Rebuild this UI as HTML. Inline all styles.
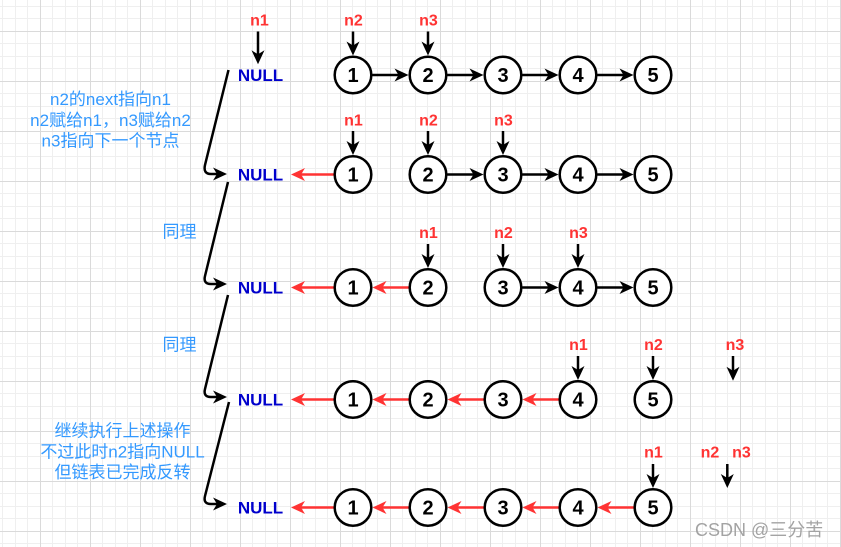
<!DOCTYPE html>
<html>
<head>
<meta charset="utf-8">
<style>
html,body{margin:0;padding:0;background:#fff;}
svg{display:block;}
.lbl{font-family:"Liberation Sans","Noto Sans CJK SC",sans-serif;font-weight:bold;font-size:16px;fill:#FF3333;text-anchor:middle;}
.num{font-family:"Liberation Sans",sans-serif;font-weight:bold;font-size:20px;fill:#000;text-anchor:middle;}
.nul{font-family:"Liberation Sans",sans-serif;font-weight:bold;font-size:17px;fill:#0000CC;text-anchor:middle;}
.cn{font-family:"Liberation Sans","Noto Sans CJK SC",sans-serif;font-size:17px;fill:#3399FF;text-anchor:middle;}
.wm{font-family:"Liberation Sans","Noto Sans CJK SC",sans-serif;font-size:18px;fill:#a3a3a3;}
</style>
</head>
<body>
<svg width="841" height="547" viewBox="0 0 841 547" xmlns="http://www.w3.org/2000/svg">
<defs>
<pattern id="grid" patternUnits="userSpaceOnUse" x="40" y="31" width="50" height="50">
<rect x="0" y="0" width="50" height="50" fill="#fff"/>
<rect x="12" y="0" width="1" height="50" fill="#efefef"/>
<rect x="25" y="0" width="1" height="50" fill="#efefef"/>
<rect x="37" y="0" width="1" height="50" fill="#efefef"/>
<rect x="0" y="12" width="50" height="1" fill="#efefef"/>
<rect x="0" y="25" width="50" height="1" fill="#efefef"/>
<rect x="0" y="37" width="50" height="1" fill="#efefef"/>
<rect x="0" y="0" width="1" height="50" fill="#dadada"/>
<rect x="0" y="0" width="50" height="1" fill="#dadada"/>
</pattern>
<marker id="mb" markerUnits="userSpaceOnUse" markerWidth="16" markerHeight="14" viewBox="0 0 16 14" refX="11" refY="7" orient="auto">
<path d="M1,0.5 L15,7 L1,13.5 L5,7 Z" fill="#000"/>
</marker>
<marker id="mr" markerUnits="userSpaceOnUse" markerWidth="16" markerHeight="14" viewBox="0 0 16 14" refX="11" refY="7" orient="auto">
<path d="M1,0.5 L15,7 L1,13.5 L5,7 Z" fill="#FF3333"/>
</marker>
</defs>
<rect x="0" y="0" width="841" height="547" fill="url(#grid)"/>

<!-- left connectors -->
<g fill="none" stroke="#000" stroke-width="2.5" marker-end="url(#mb)">
<path d="M228.5,70 L205,165 Q203,174 211,174 L223,174"/>
<path d="M228,182 L205,276 Q203,284 211,284 L223,284"/>
<path d="M228,295 L205,389 Q203,397 211,397 L223,397"/>
<path d="M229,402 L205,496 Q203,504 211,504 L223,504"/>
</g>

<!-- black horizontal arrows -->
<g stroke="#000" stroke-width="2.5" marker-end="url(#mb)">
<line x1="372.5" y1="75" x2="404.5" y2="75"/>
<line x1="447.5" y1="75" x2="479.5" y2="75"/>
<line x1="522.5" y1="75" x2="554.5" y2="75"/>
<line x1="597.5" y1="75" x2="629.5" y2="75"/>
<line x1="447.5" y1="174.5" x2="479.5" y2="174.5"/>
<line x1="522.5" y1="174.5" x2="554.5" y2="174.5"/>
<line x1="597.5" y1="174.5" x2="629.5" y2="174.5"/>
<line x1="522.5" y1="287.5" x2="554.5" y2="287.5"/>
<line x1="597.5" y1="287.5" x2="629.5" y2="287.5"/>
</g>

<!-- red arrows -->
<g stroke="#FF3333" stroke-width="2.5" marker-end="url(#mr)">
<line x1="333.5" y1="174.5" x2="295" y2="174.5"/>
<line x1="333.5" y1="287.5" x2="295" y2="287.5"/>
<line x1="408.5" y1="287.5" x2="376.5" y2="287.5"/>
<line x1="333.5" y1="399.5" x2="295" y2="399.5"/>
<line x1="408.5" y1="399.5" x2="376.5" y2="399.5"/>
<line x1="483.5" y1="399.5" x2="451.5" y2="399.5"/>
<line x1="558.5" y1="399.5" x2="526.5" y2="399.5"/>
<line x1="333.5" y1="507.5" x2="295" y2="507.5"/>
<line x1="408.5" y1="507.5" x2="376.5" y2="507.5"/>
<line x1="483.5" y1="507.5" x2="451.5" y2="507.5"/>
<line x1="558.5" y1="507.5" x2="526.5" y2="507.5"/>
<line x1="633.5" y1="507.5" x2="601.5" y2="507.5"/>
</g>

<!-- vertical pointer arrows -->
<g stroke="#000" stroke-width="2.5" marker-end="url(#mb)">
<line x1="258" y1="31.5" x2="258" y2="60.3"/>
<line x1="353" y1="31.5" x2="353" y2="51.5"/>
<line x1="428" y1="31.5" x2="428" y2="51.5"/>
<line x1="353" y1="131" x2="353" y2="151"/>
<line x1="428" y1="131" x2="428" y2="151"/>
<line x1="503" y1="131" x2="503" y2="151"/>
<line x1="428" y1="244" x2="428" y2="264"/>
<line x1="503" y1="244" x2="503" y2="264"/>
<line x1="578" y1="244" x2="578" y2="264"/>
<line x1="578" y1="356" x2="578" y2="376"/>
<line x1="653" y1="356" x2="653" y2="376"/>
<line x1="733" y1="356" x2="733" y2="376.7"/>
<line x1="653" y1="464" x2="653" y2="484"/>
<line x1="727.3" y1="464" x2="727.3" y2="484"/>
</g>

<!-- circles -->
<g fill="#fff" stroke="#000" stroke-width="2.5">
<circle cx="353" cy="75" r="18.3"/><circle cx="428" cy="75" r="18.3"/><circle cx="503" cy="75" r="18.3"/><circle cx="578" cy="75" r="18.3"/><circle cx="653" cy="75" r="18.3"/>
<circle cx="353" cy="174.5" r="18.3"/><circle cx="428" cy="174.5" r="18.3"/><circle cx="503" cy="174.5" r="18.3"/><circle cx="578" cy="174.5" r="18.3"/><circle cx="653" cy="174.5" r="18.3"/>
<circle cx="353" cy="287.5" r="18.3"/><circle cx="428" cy="287.5" r="18.3"/><circle cx="503" cy="287.5" r="18.3"/><circle cx="578" cy="287.5" r="18.3"/><circle cx="653" cy="287.5" r="18.3"/>
<circle cx="353" cy="399.5" r="18.3"/><circle cx="428" cy="399.5" r="18.3"/><circle cx="503" cy="399.5" r="18.3"/><circle cx="578" cy="399.5" r="18.3"/><circle cx="653" cy="399.5" r="18.3"/>
<circle cx="353" cy="507.5" r="18.3"/><circle cx="428" cy="507.5" r="18.3"/><circle cx="503" cy="507.5" r="18.3"/><circle cx="578" cy="507.5" r="18.3"/><circle cx="653" cy="507.5" r="18.3"/>
</g>

<!-- digits -->
<g class="num">
<text x="353" y="82.2" class="num">1</text><text x="428" y="82.2" class="num">2</text><text x="503" y="82.2" class="num">3</text><text x="578" y="82.2" class="num">4</text><text x="653" y="82.2" class="num">5</text>
<text x="353" y="181.7" class="num">1</text><text x="428" y="181.7" class="num">2</text><text x="503" y="181.7" class="num">3</text><text x="578" y="181.7" class="num">4</text><text x="653" y="181.7" class="num">5</text>
<text x="353" y="294.7" class="num">1</text><text x="428" y="294.7" class="num">2</text><text x="503" y="294.7" class="num">3</text><text x="578" y="294.7" class="num">4</text><text x="653" y="294.7" class="num">5</text>
<text x="353" y="406.7" class="num">1</text><text x="428" y="406.7" class="num">2</text><text x="503" y="406.7" class="num">3</text><text x="578" y="406.7" class="num">4</text><text x="653" y="406.7" class="num">5</text>
<text x="353" y="514.7" class="num">1</text><text x="428" y="514.7" class="num">2</text><text x="503" y="514.7" class="num">3</text><text x="578" y="514.7" class="num">4</text><text x="653" y="514.7" class="num">5</text>
</g>

<!-- NULL labels -->
<text x="260.5" y="81" class="nul">NULL</text>
<text x="260.5" y="180.5" class="nul">NULL</text>
<text x="260.5" y="293.5" class="nul">NULL</text>
<text x="260.5" y="405.5" class="nul">NULL</text>
<text x="260.5" y="513.5" class="nul">NULL</text>

<!-- pointer labels -->
<text x="259.5" y="25.5" class="lbl">n1</text>
<text x="353.5" y="25.5" class="lbl">n2</text>
<text x="428.5" y="25.5" class="lbl">n3</text>
<text x="353.5" y="125.5" class="lbl">n1</text>
<text x="428.5" y="125.5" class="lbl">n2</text>
<text x="503.5" y="125.5" class="lbl">n3</text>
<text x="428.5" y="238" class="lbl">n1</text>
<text x="503.5" y="238" class="lbl">n2</text>
<text x="578.5" y="238" class="lbl">n3</text>
<text x="578.5" y="350" class="lbl">n1</text>
<text x="653.5" y="350" class="lbl">n2</text>
<text x="735" y="350" class="lbl">n3</text>
<text x="653.5" y="457.5" class="lbl">n1</text>
<text x="710" y="457.5" class="lbl">n2</text>
<text x="741.5" y="457.5" class="lbl">n3</text>

<!-- blue annotations -->
<text x="110.5" y="105" class="cn">n2的next指向n1</text>
<text x="110.5" y="126" class="cn">n2赋给n1，n3赋给n2</text>
<text x="110.5" y="146.7" class="cn">n3指向下一个节点</text>
<text x="179.5" y="237.5" class="cn">同理</text>
<text x="179.5" y="350.5" class="cn">同理</text>
<text x="122.5" y="436.5" class="cn">继续执行上述操作</text>
<text x="122.5" y="457.3" class="cn">不过此时n2指向NULL</text>
<text x="122.5" y="478" class="cn">但链表已完成反转</text>

<!-- watermark -->
<text x="695" y="536" class="wm">CSDN @三分苦</text>
</svg>
</body>
</html>
